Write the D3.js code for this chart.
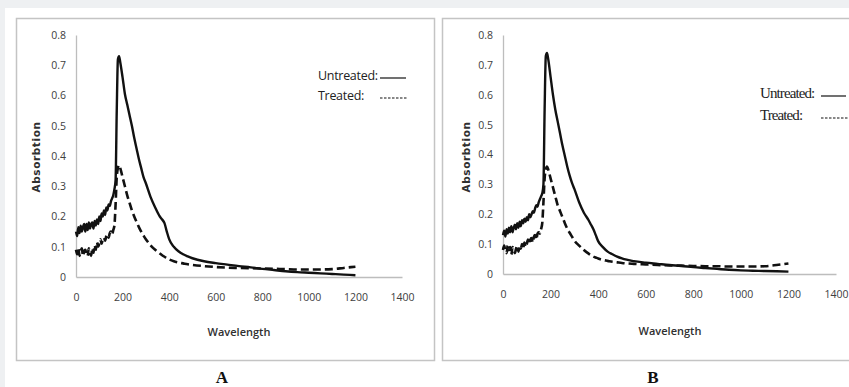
<!DOCTYPE html>
<html>
<head>
<meta charset="utf-8">
<script src="https://cdn.jsdelivr.net/npm/d3@7"></script>
<style>
  html, body { margin: 0; padding: 0; background: #eef0f2; }
  svg { display: block; }
</style>
</head>
<body>
<svg></svg>
<script>
const width = 849
const height = 387

// wavelengths shared by all four series
const wavelengths = [
  0, 5, 10, 15, 20, 25, 30, 35, 40, 45, 50, 55, 60, 65, 70, 75, 80, 85, 90, 95,
  100, 105, 110, 115, 120, 125, 130, 135, 140, 145, 150, 155, 160, 165, 170,
  175, 180, 185, 190, 200, 210, 220, 230, 240, 250, 260, 270, 280, 290, 300,
  320, 340, 360, 370, 380, 390, 400, 420, 440, 460, 480, 500,
  550, 600, 650, 700, 750, 800, 850, 900, 950, 1000, 1050, 1100, 1150, 1200
]

// panel A
const untreatedA = [
  0.15, 0.135, 0.165, 0.145, 0.17, 0.15, 0.165, 0.175, 0.15, 0.175, 0.155, 0.18, 0.16, 0.175, 0.18, 0.16, 0.185, 0.17, 0.19, 0.175,
  0.2, 0.185, 0.21, 0.2, 0.22, 0.205, 0.23, 0.22, 0.24, 0.235, 0.25, 0.26, 0.27, 0.29, 0.32,
  0.55, 0.72, 0.73, 0.71, 0.66, 0.605, 0.57, 0.535, 0.5, 0.46, 0.425, 0.39, 0.36, 0.33, 0.31,
  0.265, 0.23, 0.2, 0.19, 0.178, 0.15, 0.125, 0.1, 0.085, 0.075, 0.068, 0.062,
  0.052, 0.046, 0.041, 0.036, 0.032, 0.027, 0.023, 0.019, 0.016, 0.014, 0.012, 0.01, 0.008, 0.006
]
const treatedA = [
  0.09, 0.075, 0.095, 0.07, 0.085, 0.095, 0.07, 0.085, 0.09, 0.075, 0.07, 0.095, 0.08, 0.07, 0.095, 0.08, 0.105, 0.09, 0.115, 0.1,
  0.11, 0.125, 0.11, 0.125, 0.13, 0.12, 0.135, 0.14, 0.13, 0.145, 0.15, 0.14, 0.155, 0.17, 0.24,
  0.33, 0.36, 0.37, 0.36, 0.33, 0.3, 0.27, 0.245, 0.22, 0.2, 0.182, 0.165, 0.15, 0.137, 0.125,
  0.105, 0.09, 0.078, 0.072, 0.067, 0.062, 0.058, 0.052, 0.048, 0.045, 0.042, 0.04,
  0.036, 0.033, 0.031, 0.03, 0.029, 0.028, 0.027, 0.026, 0.025, 0.025, 0.025, 0.026, 0.03, 0.034
]

// panel B
const untreatedB = [
  0.13, 0.145, 0.125, 0.15, 0.135, 0.155, 0.14, 0.16, 0.14, 0.155, 0.165, 0.15, 0.17, 0.155, 0.175, 0.16, 0.18, 0.17, 0.185, 0.175,
  0.19, 0.18, 0.2, 0.19, 0.2, 0.21, 0.205, 0.22, 0.23, 0.225, 0.24, 0.25, 0.26, 0.27, 0.3,
  0.55, 0.73, 0.74, 0.72, 0.66, 0.6, 0.55, 0.51, 0.47, 0.43, 0.395, 0.36, 0.33, 0.305, 0.285,
  0.24, 0.205, 0.18, 0.165, 0.15, 0.13, 0.11, 0.09, 0.075, 0.066, 0.058, 0.052,
  0.043, 0.038, 0.034, 0.03, 0.027, 0.023, 0.02, 0.017, 0.014, 0.012, 0.011, 0.01, 0.009, 0.008
]
const treatedB = [
  0.08, 0.095, 0.075, 0.07, 0.095, 0.08, 0.09, 0.065, 0.09, 0.08, 0.07, 0.085, 0.095, 0.075, 0.095, 0.085, 0.1, 0.085, 0.105, 0.09,
  0.1, 0.115, 0.1, 0.115, 0.12, 0.105, 0.125, 0.13, 0.115, 0.135, 0.14, 0.135, 0.15, 0.17, 0.24,
  0.32, 0.35, 0.36, 0.35, 0.32, 0.29, 0.26, 0.23, 0.21, 0.19, 0.17, 0.152, 0.138, 0.125, 0.112,
  0.095, 0.08, 0.068, 0.063, 0.058, 0.055, 0.052, 0.047, 0.044, 0.041, 0.039, 0.037,
  0.034, 0.032, 0.03, 0.029, 0.028, 0.027, 0.026, 0.026, 0.025, 0.025, 0.025, 0.026, 0.03, 0.035
]

const xTicks = [0, 200, 400, 600, 800, 1000, 1200, 1400]
const yTicks = [0, 0.1, 0.2, 0.3, 0.4, 0.5, 0.6, 0.7, 0.8]
const panelLetters = ['A', 'B']
const legendLabels = ['Untreated:', 'Treated:']

const svg = d3.select('svg')
  .attr('width', width)
  .attr('height', height)
  .attr('viewBox', [0, 0, width, height])

// white page area
svg.append('rect')
  .attr('x', 5).attr('y', 8)
  .attr('width', width - 5).attr('height', height - 8)
  .attr('fill', '#ffffff')

const tickFont = '"Open Sans", sans-serif'

function drawPanel(p) {
  // frame
  svg.append('rect')
    .attr('x', p.box[0] + 0.5).attr('y', p.box[1] + 0.5)
    .attr('width', p.box[2]).attr('height', p.box[3])
    .attr('fill', '#fff')
    .attr('stroke', '#c4c4c4')
    .attr('stroke-width', 1.5)

  const x = d3.scaleLinear().domain([0, 1400]).range([p.left, p.right])
  const y = d3.scaleLinear().domain([0, 0.8]).range([p.bottom, p.top])

  // axes
  svg.append('g')
    .attr('transform', 'translate(0,' + p.bottom + ')')
    .call(d3.axisBottom(x).tickValues(xTicks).tickSize(0).tickPadding(17).tickFormat(d3.format('d')))
    .call(g => g.select('.domain').attr('stroke', '#bdbdbd').attr('stroke-width', 1.3))
    .call(g => g.selectAll('text').attr('font-family', tickFont).attr('font-size', 10.5).attr('fill', '#404040'))

  svg.append('g')
    .attr('transform', 'translate(' + p.left + ',0)')
    .call(d3.axisLeft(y).tickValues(yTicks).tickSize(0).tickPadding(10).tickFormat(d => d === 0 ? '0' : d3.format('.1f')(d)))
    .call(g => g.select('.domain').attr('stroke', '#bdbdbd').attr('stroke-width', 1.3))
    .call(g => g.selectAll('text').attr('font-family', tickFont).attr('font-size', 10.5).attr('fill', '#404040'))

  // axis titles
  svg.append('text')
    .text('Wavelength')
    .attr('x', p.xTitle[0]).attr('y', p.xTitle[1])
    .attr('text-anchor', 'middle')
    .attr('font-family', tickFont).attr('font-size', 11).attr('font-weight', 600)
    .attr('fill', '#303030')

  svg.append('text')
    .text('Absorbtion')
    .attr('transform', 'translate(' + p.yTitle[0] + ',' + p.yTitle[1] + ') rotate(-90)')
    .attr('text-anchor', 'middle')
    .attr('dominant-baseline', 'middle')
    .attr('font-family', '"DejaVu Sans", sans-serif').attr('font-size', 10.5).attr('font-weight', 700)
    .attr('letter-spacing', 0.6)
    .attr('fill', '#303030')

  const line = d3.line()
    .x((d, i) => x(wavelengths[i]))
    .y(d => y(d))
    .curve(d3.curveMonotoneX)

  svg.append('path')
    .datum(p.treated)
    .attr('d', line)
    .attr('fill', 'none')
    .attr('stroke', '#111')
    .attr('stroke-width', 2.6)
    .attr('stroke-dasharray', '8,4')

  svg.append('path')
    .datum(p.untreated)
    .attr('d', line)
    .attr('fill', 'none')
    .attr('stroke', '#111')
    .attr('stroke-width', 2.4)

  // legend (plain text + line samples, as in the picture)
  const lg = svg.append('g')
  legendLabels.forEach((label, i) => {
    lg.append('text')
      .text(label)
      .attr('x', p.legend.x)
      .attr('y', p.legend.y + i * p.legend.gap)
      .attr('dominant-baseline', 'middle')
      .attr('font-family', p.legend.font)
      .attr('font-size', p.legend.size)
      .attr('letter-spacing', p.legend.spacing)
      .attr('fill', '#222')
    lg.append('line')
      .attr('x1', p.legend.lx1).attr('x2', p.legend.lx2 + (i ? 2 : 0))
      .attr('y1', p.legend.y + i * p.legend.gap + 1)
      .attr('y2', p.legend.y + i * p.legend.gap + 1)
      .attr('stroke', '#111')
      .attr('stroke-width', 1.2)
      .attr('stroke-dasharray', i ? '2.5,1.5' : null)
  })

  // panel letter
  svg.append('text')
    .text(p.letter)
    .attr('x', p.letterPos[0]).attr('y', p.letterPos[1])
    .attr('text-anchor', 'middle')
    .attr('font-family', '"Liberation Serif", serif')
    .attr('font-size', 17).attr('font-weight', 700)
    .attr('fill', '#111')
}

drawPanel({
  letter: panelLetters[0],
  box: [16, 18, 418, 342],
  left: 76, right: 402, top: 35, bottom: 277,
  xTitle: [239, 336], yTitle: [37, 157],
  letterPos: [222, 383],
  untreated: untreatedA, treated: treatedA,
  legend: { x: 318, y: 77, gap: 20, lx1: 380, lx2: 406, font: tickFont, size: 12.5, spacing: -0.3 }
})

drawPanel({
  letter: panelLetters[1],
  box: [442, 18, 420, 342],
  left: 503, right: 836, top: 35, bottom: 274,
  xTitle: [670, 335], yTitle: [467, 157],
  letterPos: [653, 383],
  untreated: untreatedB, treated: treatedB,
  legend: { x: 760, y: 95, gap: 22, lx1: 821, lx2: 846, font: '"Liberation Serif", serif', size: 15, spacing: -0.9 }
})
</script>
</body>
</html>
